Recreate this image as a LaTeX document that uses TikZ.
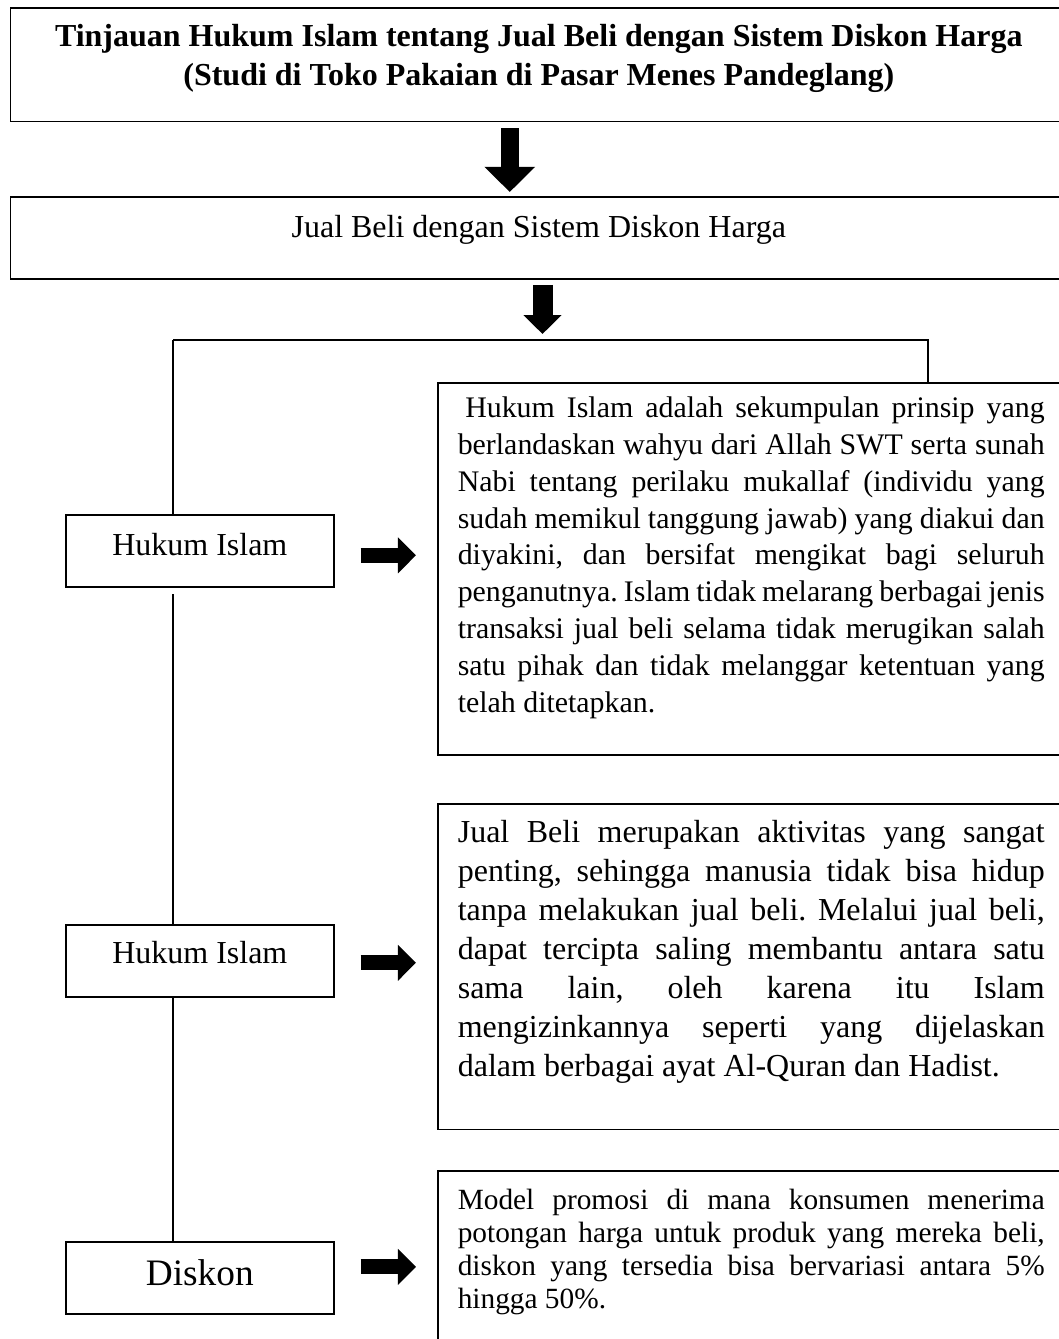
\documentclass[tikz,border=0pt]{standalone}
\usepackage{fontspec}
\setmainfont{Liberation Serif}
\usepackage{tikz}
\usetikzlibrary{positioning, shapes, arrows.meta, calc}
\frenchspacing
\hyphenpenalty=10000

\begin{document}
\begin{tikzpicture}[x=0.375pt, y=-0.375pt,
    kotak/.style={rectangle, draw, line width=0.6pt, inner ysep=0pt, anchor=north west, font=\fontsize{12}{14.6}\selectfont},
    isi/.style={kotak, inner xsep=7.5pt, text width=220.1pt, align=justify},
    kategori/.style={kotak, inner xsep=0pt, minimum width=100.5pt, align=flush center},
    garis/.style={line width=0.8pt},
    panahbawah/.style={line width=6.75pt, -{Triangle[length=9.4pt, width=18.4pt]}},
    panahkanan/.style={line width=5.6pt, -{Triangle[length=6.75pt, width=13.1pt]}}]
  \useasboundingbox (0,0) rectangle (1059,1339);

  % Nodes
  \node[kotak, inner xsep=0pt, text width=396.4pt, align=flush center, font=\bfseries\fontsize{12}{14.6}\selectfont,
        text height=14.6pt, text depth=28.1pt] (judul) at (9.5,7)
        {Tinjauan Hukum Islam tentang Jual Beli dengan Sistem Diskon Harga\\(Studi di Toko Pakaian di Pasar Menes Pandeglang)};
  \node[kotak, inner xsep=0pt, text width=396.4pt, align=flush center, text height=15.4pt, text depth=15.4pt] (jualbeli) at (9.5,196)
        {Jual Beli dengan Sistem Diskon Harga};

  \node[isi, font=\fontsize{11.2}{13.8}\selectfont, text height=13.1pt, text depth=126.4pt] (isi1) at (437,382)
        {\hspace*{0.25em}Hukum Islam adalah sekumpulan prinsip yang\linebreak
         berlandaskan wahyu dari Allah SWT serta sunah\linebreak
         Nabi tentang perilaku mukallaf (individu yang\linebreak
         sudah memikul tanggung jawab) yang diakui dan\linebreak
         diyakini, dan bersifat mengikat bagi seluruh\linebreak
         penganutnya. Islam tidak melarang berbagai jenis\linebreak
         transaksi jual beli selama tidak merugikan salah\linebreak
         satu pihak dan tidak melanggar ketentuan yang\linebreak
         telah ditetapkan.};
  \node[isi, text height=14.6pt, text depth=107.6pt] (isi2) at (437,803)
        {Jual Beli merupakan aktivitas yang sangat\linebreak
         penting, sehingga manusia tidak bisa hidup\linebreak
         tanpa melakukan jual beli. Melalui jual beli,\linebreak
         dapat tercipta saling membantu antara satu\linebreak
         sama lain, oleh karena itu Islam\linebreak
         mengizinkannya seperti yang dijelaskan\linebreak
         dalam berbagai ayat Al-Quran dan Hadist.};
  \node[isi, font=\fontsize{11}{12.4}\selectfont, text height=14.6pt, text depth=52.9pt] (isi3) at (437,1170)
        {Model promosi di mana konsumen menerima\linebreak
         potongan harga untuk produk yang mereka beli,\linebreak
         diskon yang tersedia bisa bervariasi antara 5\%\linebreak
         hingga 50\%.};

  \node[kategori, text height=15.4pt, text depth=11.6pt] (hukum1) at (65,514) {Hukum Islam};
  \node[kategori, text height=14.6pt, text depth=12.4pt] (hukum2) at (65,924) {Hukum Islam};
  \node[kategori, font=\fontsize{14}{16}\selectfont, text height=16.5pt, text depth=10.5pt] (diskon) at (65,1241) {Diskon};

  \coordinate (cabang) at (542.5,340);
  \coordinate (pojokkiri) at (173,340);
  \coordinate (pojokkanan) at (928,340);

  % Arrows
  \draw[panahbawah, shorten <=2.25pt, shorten >=1.5pt] ([xshift=-10.9pt]judul.south) -- ([xshift=-10.9pt]jualbeli.north);
  \draw[line width=7.5pt, -{Triangle[length=7.1pt, width=13.9pt]}, shorten <=1.9pt, shorten >=2.25pt] (jualbeli.south -| cabang) -- (cabang);

  \draw[garis] (pojokkiri) -- (pojokkanan) -- (pojokkanan |- isi1.north);
  \draw[garis] (pojokkiri) -- (pojokkiri |- hukum1.north);
  \draw[garis, shorten <=2.5pt] (pojokkiri |- hukum1.south) -- (pojokkiri |- hukum2.north);
  \draw[garis] (pojokkiri |- hukum2.south) -- (pojokkiri |- diskon.north);

  \draw[panahkanan, shorten <=9.75pt, shorten >=7.9pt] ([yshift=-1.7pt]hukum1.east) -- ([yshift=-1.7pt]hukum1.east -| isi1.west);
  \draw[panahkanan, shorten <=9.75pt, shorten >=7.9pt] ([yshift=-0.75pt]hukum2.east) -- ([yshift=-0.75pt]hukum2.east -| isi2.west);
  \draw[panahkanan, shorten <=9.75pt, shorten >=7.9pt] ([yshift=4.1pt]diskon.east) -- ([yshift=4.1pt]diskon.east -| isi3.west);
\end{tikzpicture}
\end{document}
